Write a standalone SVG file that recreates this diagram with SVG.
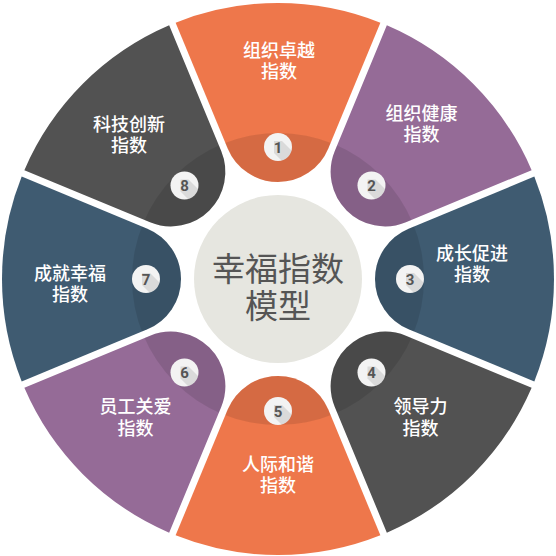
<svg xmlns="http://www.w3.org/2000/svg" xmlns:xlink="http://www.w3.org/1999/xlink" width="556" height="556" viewBox="0 0 556 556">
<style>
.lbl{font-family:"Noto Sans CJK SC","Noto Sans",sans-serif;font-size:18px;font-weight:500;fill:#fff;text-anchor:middle}
.num{font-family:Roboto,"DejaVu Sans",sans-serif;font-size:15px;font-weight:700;fill:#555;text-anchor:middle}
.title{font-family:"Noto Sans CJK SC","Noto Sans",sans-serif;font-size:33px;font-weight:400;fill:#555;text-anchor:middle}
.shade{fill:#000;fill-opacity:0.1}
.o{fill:#EE774B}.p{fill:#956B97}.b{fill:#3F5B71}.g{fill:#525252}
</style>
<defs>
<path id="seg" d="M175.62,22.69 A276,276 0 0 1 380.38,22.69 L328.31,148.38 A54.46,54.46 0 0 1 227.69,148.38 Z"/>
<clipPath id="bc"><circle r="14"/></clipPath>
<g id="badge"><circle r="14" fill="#F3F3F3"/><polygon points="-4,-6 4,-6 24,14 24,26 16,26 -4,6" fill="#000" fill-opacity="0.1" clip-path="url(#bc)"/></g>
<clipPath id="c1"><use xlink:href="#seg"/></clipPath>
<clipPath id="c2"><use xlink:href="#seg" transform="rotate(45 278 279)"/></clipPath>
<clipPath id="c3"><use xlink:href="#seg" transform="rotate(90 278 279)"/></clipPath>
<clipPath id="c4"><use xlink:href="#seg" transform="rotate(135 278 279)"/></clipPath>
<clipPath id="c5"><use xlink:href="#seg" transform="rotate(180 278 279)"/></clipPath>
<clipPath id="c6"><use xlink:href="#seg" transform="rotate(225 278 279)"/></clipPath>
<clipPath id="c7"><use xlink:href="#seg" transform="rotate(270 278 279)"/></clipPath>
<clipPath id="c8"><use xlink:href="#seg" transform="rotate(315 278 279)"/></clipPath>
</defs>
<rect width="556" height="556" fill="#fff"/>
<g id="node1">
<use xlink:href="#seg" class="o"/>
<circle cx="278" cy="279" r="146" class="shade" clip-path="url(#c1)"/>
<use xlink:href="#badge" x="278" y="147"/><text class="num" x="278" y="152.5">1</text>
<text class="lbl" x="279" y="57">组织卓越<tspan x="279" y="78">指数</tspan></text>
</g>
<g id="node2">
<use xlink:href="#seg" class="p" transform="rotate(45 278 279)"/>
<circle cx="278" cy="279" r="146" class="shade" clip-path="url(#c2)"/>
<use xlink:href="#badge" x="371.5" y="185.5"/><text class="num" x="371.5" y="191">2</text>
<text class="lbl" x="421.5" y="120">组织健康<tspan x="421.5" y="141">指数</tspan></text>
</g>
<g id="node3">
<use xlink:href="#seg" class="b" transform="rotate(90 278 279)"/>
<circle cx="278" cy="279" r="146" class="shade" clip-path="url(#c3)"/>
<use xlink:href="#badge" x="410" y="279"/><text class="num" x="410" y="284.5">3</text>
<text class="lbl" x="472" y="260">成长促进<tspan x="472" y="281">指数</tspan></text>
</g>
<g id="node4">
<use xlink:href="#seg" class="g" transform="rotate(135 278 279)"/>
<circle cx="278" cy="279" r="146" class="shade" clip-path="url(#c4)"/>
<use xlink:href="#badge" x="371.5" y="372.5"/><text class="num" x="371.5" y="378">4</text>
<text class="lbl" x="420.5" y="413">领导力<tspan x="420.5" y="435">指数</tspan></text>
</g>
<g id="node5">
<use xlink:href="#seg" class="o" transform="rotate(180 278 279)"/>
<circle cx="278" cy="279" r="146" class="shade" clip-path="url(#c5)"/>
<use xlink:href="#badge" x="278" y="411"/><text class="num" x="278" y="416.5">5</text>
<text class="lbl" x="278" y="471">人际和谐<tspan x="278" y="492">指数</tspan></text>
</g>
<g id="node6">
<use xlink:href="#seg" class="p" transform="rotate(225 278 279)"/>
<circle cx="278" cy="279" r="146" class="shade" clip-path="url(#c6)"/>
<use xlink:href="#badge" x="184.5" y="372.5"/><text class="num" x="184.5" y="378">6</text>
<text class="lbl" x="135.5" y="413">员工关爱<tspan x="135.5" y="435">指数</tspan></text>
</g>
<g id="node7">
<use xlink:href="#seg" class="b" transform="rotate(270 278 279)"/>
<circle cx="278" cy="279" r="146" class="shade" clip-path="url(#c7)"/>
<use xlink:href="#badge" x="146" y="279"/><text class="num" x="146" y="284.5">7</text>
<text class="lbl" x="70" y="280">成就幸福<tspan x="70" y="301">指数</tspan></text>
</g>
<g id="node8">
<use xlink:href="#seg" class="g" transform="rotate(315 278 279)"/>
<circle cx="278" cy="279" r="146" class="shade" clip-path="url(#c8)"/>
<use xlink:href="#badge" x="184.5" y="185.5"/><text class="num" x="184.5" y="191">8</text>
<text class="lbl" x="129" y="131">科技创新<tspan x="129" y="152">指数</tspan></text>
</g>
<g id="center">
<circle cx="278" cy="279" r="84" fill="#E6E6E0"/>
<text class="title" x="278" y="281">幸福指数<tspan x="278" y="318">模型</tspan></text>
</g>
<g id="connectors"/>
</svg>
